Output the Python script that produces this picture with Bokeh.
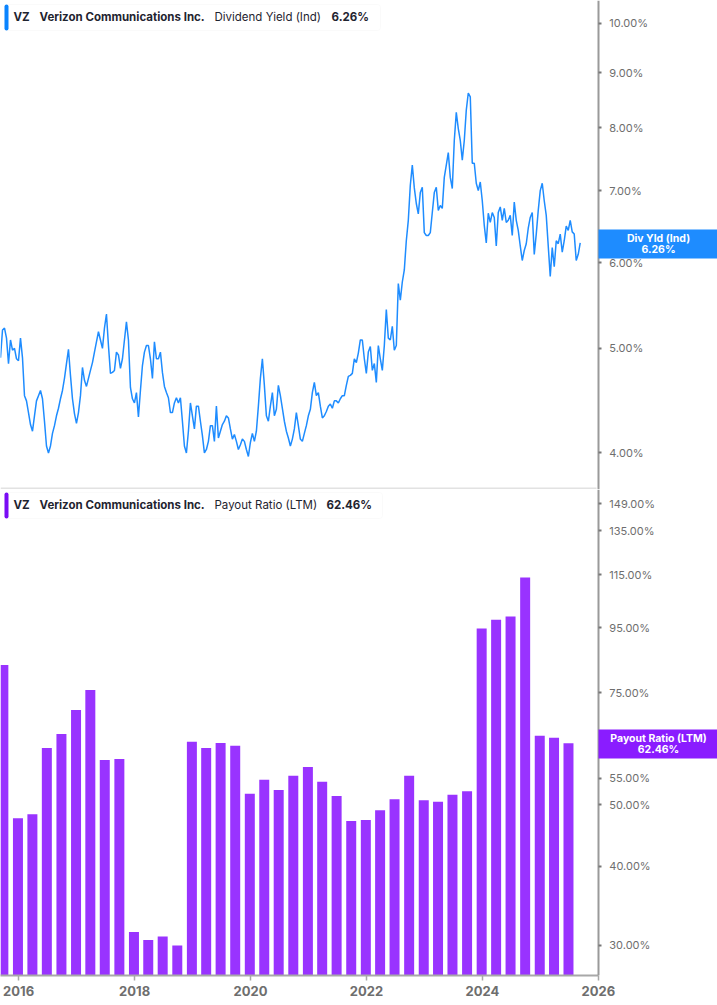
import pandas as pd
from bokeh.plotting import figure
from bokeh.layouts import column
from bokeh.models import (ColumnDataSource, FixedTicker, PrintfTickFormatter, Range1d,
                          Label, BoxAnnotation)
from bokeh.embed import file_html
from bokeh.resources import INLINE

# ---------- data ----------
yield_start = "2015-09-09"
yield_end = "2025-09-09"
div_yield = [
 4.90,5.20,5.22,5.11,4.84,5.09,4.98,5.00,4.89,4.87,5.11,4.90,4.52,4.47,4.36,4.25,4.19,4.33,4.47,4.52,
 4.57,4.49,4.28,4.06,4.00,4.06,4.17,4.24,4.33,4.40,4.49,4.57,4.69,4.84,4.99,4.72,4.49,4.35,4.26,4.36,
 4.52,4.80,4.67,4.61,4.69,4.77,4.85,4.96,5.07,5.18,5.09,5.00,5.22,5.38,5.03,4.74,4.75,4.77,4.96,4.93,
 4.79,4.89,5.09,5.29,5.09,4.60,4.49,4.45,4.55,4.32,4.57,4.82,4.96,5.03,5.03,4.89,4.69,5.07,4.89,4.89,
 4.96,4.75,4.61,4.55,4.50,4.36,4.36,4.45,4.50,4.45,4.50,4.28,4.06,4.00,4.19,4.45,4.33,4.21,4.42,4.42,
 4.28,4.15,4.00,4.03,4.10,4.24,4.24,4.10,4.42,4.13,4.19,4.25,4.28,4.33,4.31,4.21,4.12,4.16,4.10,4.03,
 4.07,4.12,4.10,4.03,3.97,4.09,4.17,4.10,4.19,4.42,4.69,4.89,4.62,4.33,4.28,4.42,4.55,4.33,4.39,4.62,
 4.52,4.40,4.28,4.19,4.13,4.06,4.12,4.21,4.36,4.24,4.12,4.10,4.17,4.24,4.33,4.39,4.55,4.65,4.52,4.55,
 4.42,4.31,4.33,4.37,4.42,4.44,4.40,4.47,4.47,4.45,4.49,4.52,4.52,4.62,4.71,4.72,4.74,4.89,4.85,4.95,
 5.09,5.09,4.89,4.74,4.96,5.02,4.77,4.84,4.65,5.03,4.89,4.77,5.03,5.43,5.11,5.09,5.24,4.98,5.03,5.74,
 5.54,5.76,5.91,6.29,6.57,7.08,7.39,7.04,6.81,6.66,6.97,7.05,6.40,6.36,6.36,6.40,6.68,6.97,7.05,6.71,
 6.78,6.74,7.20,7.39,7.59,7.20,7.03,7.79,8.27,7.99,7.79,7.47,7.79,8.31,8.62,8.55,7.42,7.42,7.11,7.00,
 7.13,6.85,6.50,6.26,6.67,6.54,6.68,6.61,6.22,6.68,6.76,6.57,6.74,6.54,6.57,6.64,6.36,6.83,6.57,6.43,
 6.22,6.03,6.16,6.25,6.46,6.61,6.68,6.11,6.38,6.71,7.00,7.11,6.85,6.64,6.22,5.83,6.20,5.95,6.29,6.25,
 6.38,6.14,6.29,6.49,6.43,6.57,6.41,6.38,6.03,6.11,6.26,
]
payout_start = "2015-09-30"
payout_ratio = [
 83.0,47.6,48.3,61.4,64.6,70.5,75.8,58.8,59.0,31.5,
 30.6,31.0,30.0,62.8,61.4,62.5,61.9,52.0,54.7,52.7,
 55.5,57.3,54.3,51.6,47.1,47.3,49.0,51.0,55.5,50.8,
 50.5,51.8,52.5,94.7,97.8,98.9,113.9,64.2,63.7,62.46,
]
yield_ticks = [4, 5, 6, 7, 8, 9, 10]
payout_ticks = [30, 40, 50, 55, 75, 95, 115, 135, 149]
year_ticks = [2016, 2018, 2020, 2022, 2024, 2026]
yield_range = (3.70, 10.5)
payout_range = (26.9, 156.8)
x_range_dates = ("2015-09-09", "2028-01-22")
axis_date = "2026-01-01"
last_yield = "6.26%"
last_payout = "62.46%"

BLUE, PURPLE = "#1e8cff", "#9933ff"
W = 717
H1, H2 = 489, 516
FONT = "Inter"

def ms(d):
    return pd.Timestamp(d).value / 1e6

def box(p, l, r, t, b, **kw):
    p.add_layout(BoxAnnotation(left=l, right=r, top=t, bottom=b,
                               left_units="canvas", right_units="canvas",
                               top_units="canvas", bottom_units="canvas",
                               fill_alpha=1, **kw))

def legend(p, top, box_right, strip, parts):
    box(p, 4, box_right, top, top+26, fill_color="white", line_color="#eeeeee",
        line_width=1, border_radius=3)
    box(p, 4, 8, top, top+26, fill_color=strip, line_alpha=0, border_radius=2)
    for x, txt, weight in parts:
        p.add_layout(Label(x=x, y=top+12.5, x_units="canvas", y_units="canvas", text=txt,
                           text_font=FONT, text_font_size="11.5px", text_font_style=weight,
                           text_color="#1f2430", text_baseline="middle", text_align="left"))

def tag(p, top, color, name, value):
    box(p, 598, 717, top, top+29, fill_color=color, line_alpha=0)
    for dy, txt in ((9, name), (20, value)):
        p.add_layout(Label(x=658, y=top+dy, x_units="canvas", y_units="canvas", text=txt,
                           text_font=FONT, text_font_size="10.5px", text_font_style="bold",
                           text_color="white", text_baseline="middle", text_align="center"))

def style_y(p, ticks):
    ax = p.yaxis[0]
    ax.fixed_location = ms(axis_date)
    ax.ticker = FixedTicker(ticks=ticks, minor_ticks=[])
    ax.formatter = PrintfTickFormatter(format="%.2f%%")
    ax.axis_line_color = "#9a9a9a"
    ax.axis_line_width = 2
    ax.major_tick_line_color = "#777777"
    ax.major_tick_line_width = 2
    ax.major_tick_in = 0
    ax.major_tick_out = 3
    ax.minor_tick_line_color = None
    ax.major_label_standoff = 8
    ax.major_label_text_font = FONT
    ax.major_label_text_font_size = "11px"
    ax.major_label_text_color = "#6e6e6e"
    p.grid.visible = False
    p.outline_line_color = None

x_rng = Range1d(ms(x_range_dates[0]), ms(x_range_dates[1]))

# ---------- top panel ----------
p1 = figure(width=W, height=H1, output_backend="svg", toolbar_location=None,
            x_axis_type="datetime", y_axis_type="log", y_axis_location="right",
            x_range=x_rng, y_range=Range1d(*yield_range),
            min_border_left=0, min_border_right=0, min_border_top=0, min_border_bottom=0)
p1.xaxis.visible = False
style_y(p1, yield_ticks)
yield_src = ColumnDataSource(dict(
    date=pd.date_range(yield_start, yield_end, periods=len(div_yield)), value=div_yield))
p1.line("date", "value", source=yield_src, line_color=BLUE, line_width=1.5)
box(p1, 0, 596, 487, 489, fill_color="#e2e2e2", line_alpha=0)
legend(p1, 4, 380, "#0a84ff", [(13, "VZ", "bold"), (39, "Verizon Communications Inc.", "bold"),
                               (214, "Dividend Yield (Ind)", "normal"), (331, last_yield, "bold")])
tag(p1, 229, BLUE, "Div Yld (Ind)", last_yield)

# ---------- bottom panel ----------
p2 = figure(width=W, height=H2, output_backend="svg", toolbar_location=None,
            x_axis_type="datetime", y_axis_type="log", y_axis_location="right",
            x_range=x_rng, y_range=Range1d(*payout_range),
            min_border_left=0, min_border_right=0, min_border_top=0, min_border_bottom=30)
style_y(p2, payout_ticks)
payout_dates = pd.date_range(payout_start, periods=len(payout_ratio), freq="QE") - pd.Timedelta(days=3)
payout_src = ColumnDataSource(dict(date=payout_dates, value=payout_ratio))
bar_ms = 10 / 58 * 365.25 * 86400000
p2.vbar(x="date", top="value", bottom=payout_range[0], width=bar_ms, source=payout_src,
        fill_color=PURPLE, line_color=None)
xa = p2.xaxis[0]
xa.bounds = (x_rng.start, ms(axis_date))
xa.ticker = FixedTicker(ticks=[ms(f"{y}-01-01") for y in year_ticks], minor_ticks=[])
xa.major_label_overrides = {ms(f"{y}-01-01"): str(y) for y in year_ticks}
xa.axis_line_color = "#a8a8a8"
xa.axis_line_width = 2
xa.major_tick_line_color = "#a8a8a8"
xa.major_tick_line_width = 1.5
xa.major_tick_in = 0
xa.major_tick_out = 5
xa.minor_tick_line_color = None
xa.major_label_standoff = 5
xa.major_label_text_font = FONT
xa.major_label_text_font_size = "13px"
xa.major_label_text_font_style = "bold"
xa.major_label_text_color = "#6e6e6e"
legend(p2, 3, 382, "#7a0cf5", [(13, "VZ", "bold"), (39, "Verizon Communications Inc.", "bold"),
                               (214, "Payout Ratio (LTM)", "normal"), (326, last_payout, "bold")])
tag(p2, 240, "#8a1cff", "Payout Ratio (LTM)", last_payout)

page = column(p1, p2, spacing=0)
open("out.html", "w").write(file_html(page, INLINE))
